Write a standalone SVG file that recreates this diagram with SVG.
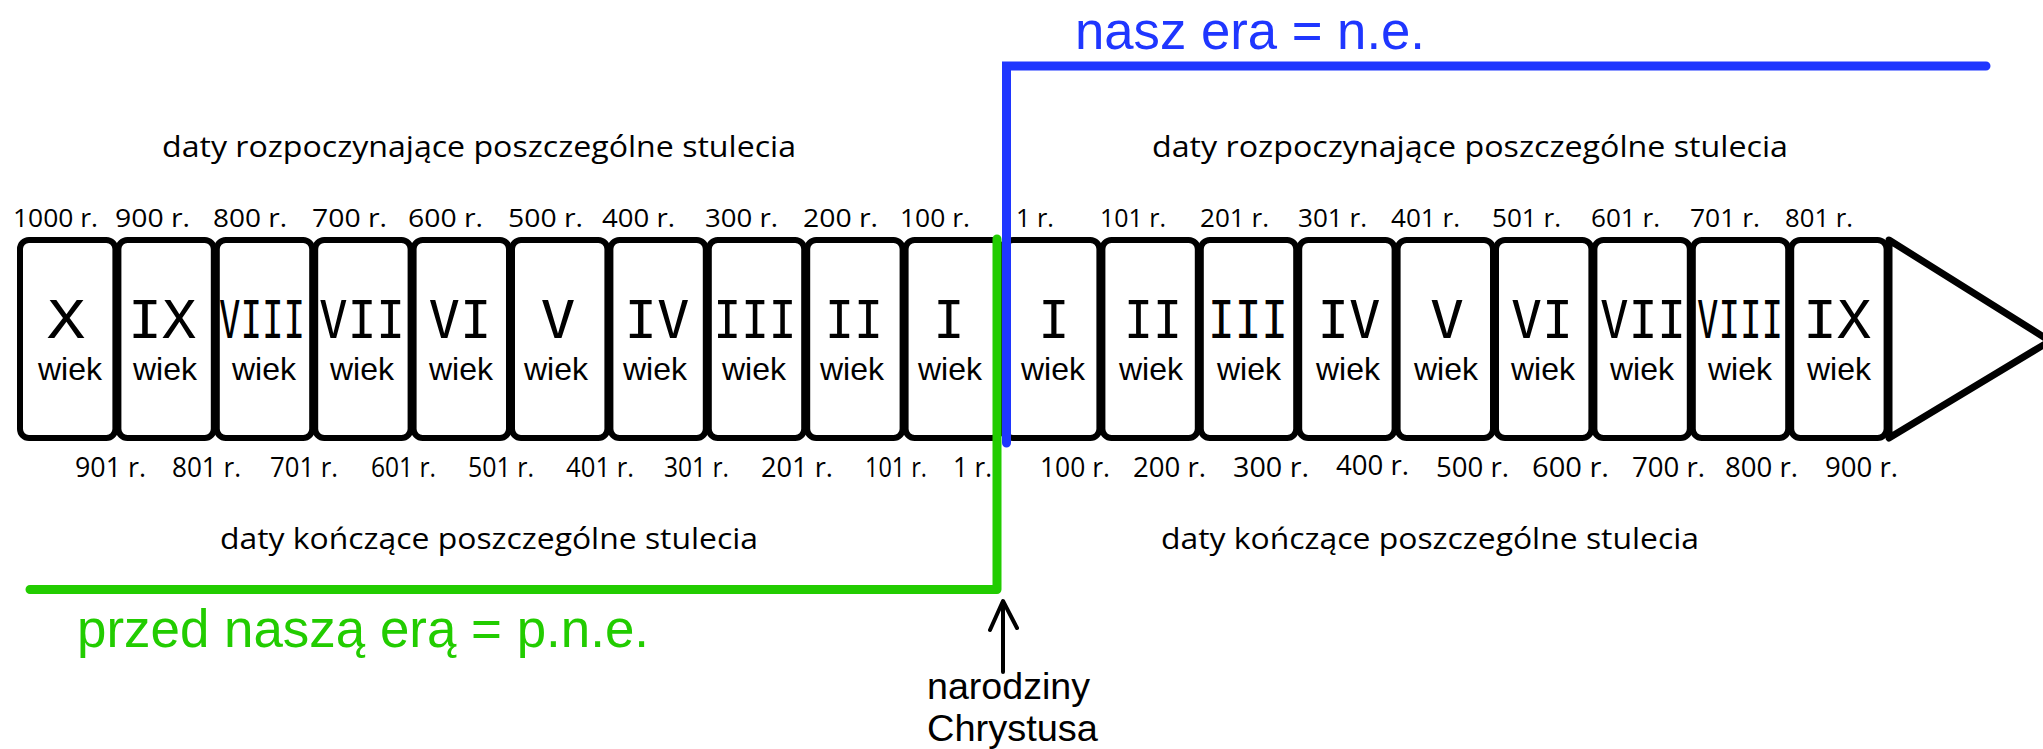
<svg xmlns="http://www.w3.org/2000/svg" width="2043" height="749" viewBox="0 0 2043 749">
<style>
.box{fill:#fff;stroke:#000;stroke-width:6}
.num{font-family:"DejaVu Sans Mono",monospace;font-size:52px;text-anchor:middle;fill:#000}
.wk{font-family:"Liberation Sans",sans-serif;font-size:32px;text-anchor:middle;fill:#000}
.yt{font-family:"Open Sans",sans-serif;font-size:25px;fill:#000}
.yb{font-family:"Open Sans",sans-serif;font-size:28px;fill:#000}
.cat{font-family:"Open Sans",sans-serif;font-size:30px;fill:#000}
.big{font-family:"Liberation Sans",sans-serif;font-size:53px}
.nar{font-family:"Liberation Sans",sans-serif;font-size:36px;fill:#000}
</style>
<rect width="2043" height="749" fill="#fff"/>

<g id="arrowhead">
<polygon points="1889,240 2050,341 1889,438" fill="#fff" stroke="#000" stroke-width="7" stroke-linejoin="round"/>
</g>

<g id="box-pne-X"><rect class="box" x="20" y="240" width="95.4" height="198" rx="9"/><text class="num" x="66" y="338" textLength="38" lengthAdjust="spacingAndGlyphs">X</text><text class="wk" x="70" y="380" textLength="64" lengthAdjust="spacingAndGlyphs">wiek</text></g>
<g id="box-pne-IX"><rect class="box" x="118.4" y="240" width="95.4" height="198" rx="9"/><text class="num" x="162" y="338" textLength="68" lengthAdjust="spacingAndGlyphs">IX</text><text class="wk" x="165" y="380" textLength="64" lengthAdjust="spacingAndGlyphs">wiek</text></g>
<g id="box-pne-VIII"><rect class="box" x="216.8" y="240" width="95.4" height="198" rx="9"/><text class="num" transform="translate(262,338) scale(0.687,1)">VIII</text><text class="wk" x="264" y="380" textLength="64" lengthAdjust="spacingAndGlyphs">wiek</text></g>
<g id="box-pne-VII"><rect class="box" x="315.2" y="240" width="95.4" height="198" rx="9"/><text class="num" transform="translate(362,338) scale(0.916,1)">VII</text><text class="wk" x="362" y="380" textLength="64" lengthAdjust="spacingAndGlyphs">wiek</text></g>
<g id="box-pne-VI"><rect class="box" x="413.6" y="240" width="95.4" height="198" rx="9"/><text class="num" x="460" y="338" textLength="63" lengthAdjust="spacingAndGlyphs">VI</text><text class="wk" x="461" y="380" textLength="64" lengthAdjust="spacingAndGlyphs">wiek</text></g>
<g id="box-pne-V"><rect class="box" x="512" y="240" width="95.4" height="198" rx="9"/><text class="num" x="558" y="338" textLength="35" lengthAdjust="spacingAndGlyphs">V</text><text class="wk" x="556" y="380" textLength="64" lengthAdjust="spacingAndGlyphs">wiek</text></g>
<g id="box-pne-IV"><rect class="box" x="610.4" y="240" width="95.4" height="198" rx="9"/><text class="num" x="657" y="338" textLength="65" lengthAdjust="spacingAndGlyphs">IV</text><text class="wk" x="655" y="380" textLength="64" lengthAdjust="spacingAndGlyphs">wiek</text></g>
<g id="box-pne-III"><rect class="box" x="708.8" y="240" width="95.4" height="198" rx="9"/><text class="num" transform="translate(755,338) scale(0.884,1)">III</text><text class="wk" x="754" y="380" textLength="64" lengthAdjust="spacingAndGlyphs">wiek</text></g>
<g id="box-pne-II"><rect class="box" x="807.2" y="240" width="95.4" height="198" rx="9"/><text class="num" x="854" y="338" textLength="58" lengthAdjust="spacingAndGlyphs">II</text><text class="wk" x="852" y="380" textLength="64" lengthAdjust="spacingAndGlyphs">wiek</text></g>
<g id="box-pne-I"><rect class="box" x="905.6" y="240" width="95.4" height="198" rx="9"/><text class="num" x="949" y="338">I</text><text class="wk" x="950" y="380" textLength="64" lengthAdjust="spacingAndGlyphs">wiek</text></g>

<g id="box-ne-I"><rect class="box" x="1004" y="240" width="95.4" height="198" rx="9"/><text class="num" x="1054" y="338">I</text><text class="wk" x="1053" y="380" textLength="64" lengthAdjust="spacingAndGlyphs">wiek</text></g>
<g id="box-ne-II"><rect class="box" x="1102.4" y="240" width="95.4" height="198" rx="9"/><text class="num" x="1153" y="338" textLength="58" lengthAdjust="spacingAndGlyphs">II</text><text class="wk" x="1151" y="380" textLength="64" lengthAdjust="spacingAndGlyphs">wiek</text></g>
<g id="box-ne-III"><rect class="box" x="1200.8" y="240" width="95.4" height="198" rx="9"/><text class="num" transform="translate(1248,338) scale(0.852,1)">III</text><text class="wk" x="1249" y="380" textLength="64" lengthAdjust="spacingAndGlyphs">wiek</text></g>
<g id="box-ne-IV"><rect class="box" x="1299.2" y="240" width="95.4" height="198" rx="9"/><text class="num" x="1349" y="338" textLength="63" lengthAdjust="spacingAndGlyphs">IV</text><text class="wk" x="1348" y="380" textLength="64" lengthAdjust="spacingAndGlyphs">wiek</text></g>
<g id="box-ne-V"><rect class="box" x="1397.6" y="240" width="95.4" height="198" rx="9"/><text class="num" x="1447" y="338" textLength="34" lengthAdjust="spacingAndGlyphs">V</text><text class="wk" x="1446" y="380" textLength="64" lengthAdjust="spacingAndGlyphs">wiek</text></g>
<g id="box-ne-VI"><rect class="box" x="1496" y="240" width="95.4" height="198" rx="9"/><text class="num" x="1542" y="338" textLength="62" lengthAdjust="spacingAndGlyphs">VI</text><text class="wk" x="1543" y="380" textLength="64" lengthAdjust="spacingAndGlyphs">wiek</text></g>
<g id="box-ne-VII"><rect class="box" x="1594.4" y="240" width="95.4" height="198" rx="9"/><text class="num" transform="translate(1643,338) scale(0.916,1)">VII</text><text class="wk" x="1642" y="380" textLength="64" lengthAdjust="spacingAndGlyphs">wiek</text></g>
<g id="box-ne-VIII"><rect class="box" x="1692.8" y="240" width="95.4" height="198" rx="9"/><text class="num" transform="translate(1740,338) scale(0.687,1)">VIII</text><text class="wk" x="1740" y="380" textLength="64" lengthAdjust="spacingAndGlyphs">wiek</text></g>
<g id="box-ne-IX"><rect class="box" x="1791.2" y="240" width="95.4" height="198" rx="9"/><text class="num" x="1837" y="338" textLength="68" lengthAdjust="spacingAndGlyphs">IX</text><text class="wk" x="1839" y="380" textLength="64" lengthAdjust="spacingAndGlyphs">wiek</text></g>

<g id="labels-start-years">
<text class="yt" x="13" y="227" textLength="85" lengthAdjust="spacingAndGlyphs">1000 r.</text>
<text class="yt" x="115" y="227" textLength="75" lengthAdjust="spacingAndGlyphs">900 r.</text>
<text class="yt" x="213" y="227" textLength="74" lengthAdjust="spacingAndGlyphs">800 r.</text>
<text class="yt" x="312" y="227" textLength="75" lengthAdjust="spacingAndGlyphs">700 r.</text>
<text class="yt" x="408" y="227" textLength="75" lengthAdjust="spacingAndGlyphs">600 r.</text>
<text class="yt" x="508" y="227" textLength="75" lengthAdjust="spacingAndGlyphs">500 r.</text>
<text class="yt" x="602" y="227" textLength="73" lengthAdjust="spacingAndGlyphs">400 r.</text>
<text class="yt" x="705" y="227" textLength="73" lengthAdjust="spacingAndGlyphs">300 r.</text>
<text class="yt" x="803" y="227" textLength="75" lengthAdjust="spacingAndGlyphs">200 r.</text>
<text class="yt" x="900" y="227" textLength="70" lengthAdjust="spacingAndGlyphs">100 r.</text>
<text class="yt" x="1016" y="227" textLength="38" lengthAdjust="spacingAndGlyphs">1 r.</text>
<text class="yt" x="1100" y="227" textLength="66" lengthAdjust="spacingAndGlyphs">101 r.</text>
<text class="yt" x="1200" y="227" textLength="69" lengthAdjust="spacingAndGlyphs">201 r.</text>
<text class="yt" x="1298" y="227" textLength="69" lengthAdjust="spacingAndGlyphs">301 r.</text>
<text class="yt" x="1391" y="227" textLength="69" lengthAdjust="spacingAndGlyphs">401 r.</text>
<text class="yt" x="1492" y="227" textLength="69" lengthAdjust="spacingAndGlyphs">501 r.</text>
<text class="yt" x="1591" y="227" textLength="69" lengthAdjust="spacingAndGlyphs">601 r.</text>
<text class="yt" x="1690" y="227" textLength="70" lengthAdjust="spacingAndGlyphs">701 r.</text>
<text class="yt" x="1785" y="227" textLength="68" lengthAdjust="spacingAndGlyphs">801 r.</text>
</g>

<g id="labels-end-years">
<text class="yb" x="75" y="477" textLength="71" lengthAdjust="spacingAndGlyphs">901 r.</text>
<text class="yb" x="172" y="477" textLength="69" lengthAdjust="spacingAndGlyphs">801 r.</text>
<text class="yb" x="270" y="477" textLength="68" lengthAdjust="spacingAndGlyphs">701 r.</text>
<text class="yb" x="371" y="477" textLength="65" lengthAdjust="spacingAndGlyphs">601 r.</text>
<text class="yb" x="468" y="477" textLength="66" lengthAdjust="spacingAndGlyphs">501 r.</text>
<text class="yb" x="566" y="477" textLength="68" lengthAdjust="spacingAndGlyphs">401 r.</text>
<text class="yb" x="664" y="477" textLength="65" lengthAdjust="spacingAndGlyphs">301 r.</text>
<text class="yb" x="761" y="477" textLength="72" lengthAdjust="spacingAndGlyphs">201 r.</text>
<text class="yb" x="865" y="477" textLength="62" lengthAdjust="spacingAndGlyphs">101 r.</text>
<text class="yb" x="953" y="477" textLength="39" lengthAdjust="spacingAndGlyphs">1 r.</text>
<text class="yb" x="1040" y="477" textLength="70" lengthAdjust="spacingAndGlyphs">100 r.</text>
<text class="yb" x="1133" y="477" textLength="73" lengthAdjust="spacingAndGlyphs">200 r.</text>
<text class="yb" x="1233" y="477" textLength="76" lengthAdjust="spacingAndGlyphs">300 r.</text>
<text class="yb" x="1336" y="475" textLength="73" lengthAdjust="spacingAndGlyphs">400 r.</text>
<text class="yb" x="1436" y="477" textLength="73" lengthAdjust="spacingAndGlyphs">500 r.</text>
<text class="yb" x="1532" y="477" textLength="77" lengthAdjust="spacingAndGlyphs">600 r.</text>
<text class="yb" x="1632" y="477" textLength="73" lengthAdjust="spacingAndGlyphs">700 r.</text>
<text class="yb" x="1725" y="477" textLength="73" lengthAdjust="spacingAndGlyphs">800 r.</text>
<text class="yb" x="1825" y="477" textLength="73" lengthAdjust="spacingAndGlyphs">900 r.</text>
</g>

<g id="captions">
<text class="cat" x="162" y="157" textLength="634" lengthAdjust="spacingAndGlyphs">daty rozpoczynające poszczególne stulecia</text>
<text class="cat" x="1152" y="157" textLength="636" lengthAdjust="spacingAndGlyphs">daty rozpoczynające poszczególne stulecia</text>
<text class="cat" x="220" y="549" textLength="538" lengthAdjust="spacingAndGlyphs">daty kończące poszczególne stulecia</text>
<text class="cat" x="1161" y="549" textLength="538" lengthAdjust="spacingAndGlyphs">daty kończące poszczególne stulecia</text>
</g>

<g id="era-ne"><text class="big" x="1075" y="49" fill="#1f36ff" textLength="350" lengthAdjust="spacingAndGlyphs">nasz era = n.e.</text></g>
<g id="era-pne"><text class="big" x="77" y="647" fill="#22cc00" textLength="572" lengthAdjust="spacingAndGlyphs">przed naszą erą = p.n.e.</text></g>
<g id="birth">
<text class="nar" x="927" y="699" textLength="163" lengthAdjust="spacingAndGlyphs">narodziny</text>
<text class="nar" x="927" y="741" textLength="171" lengthAdjust="spacingAndGlyphs">Chrystusa</text>
</g>

<g id="connectors">
<path d="M1006.5,443 V66 H1986" fill="none" stroke="#1f36ff" stroke-width="9" stroke-linecap="round" stroke-linejoin="miter"/>
<path d="M997,239 V589.5 H30" fill="none" stroke="#22cc00" stroke-width="9" stroke-linecap="round" stroke-linejoin="round"/>
<path d="M1003,672 V602 M990,630 L1003,601 L1017,628" fill="none" stroke="#000" stroke-width="4" stroke-linecap="round" stroke-linejoin="round"/>
</g>
</svg>
